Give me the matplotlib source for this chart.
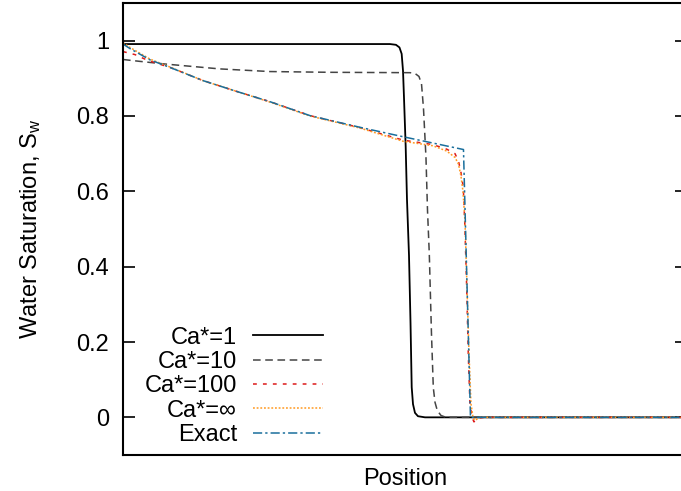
import matplotlib
matplotlib.use('Agg')
import matplotlib.pyplot as plt

plt.rcParams['font.family'] = ['Liberation Sans', 'DejaVu Sans']
plt.rcParams['mathtext.default'] = 'regular'

# position is the fraction of the domain length (0..1)
x_ca1 = [0.0, 0.4734, 0.4840, 0.4902, 0.4941, 0.4965, 0.4982, 0.5012, 0.5035,
         0.5071, 0.5098, 0.5119, 0.5142, 0.5177, 0.5230, 0.5355, 1.0]
s_ca1 = [0.991, 0.991, 0.989, 0.982, 0.965, 0.92, 0.85, 0.72, 0.58,
         0.43, 0.25, 0.08, 0.035, 0.012, 0.003, 0.0, 0.0]

x_ca10 = [0.0, 0.0301, 0.0745, 0.1720, 0.2606, 0.3670, 0.5089, 0.5177, 0.5248,
          0.5293, 0.5328, 0.5372, 0.5399, 0.5431, 0.5470, 0.5502, 0.5532,
          0.5573, 0.5638, 0.5727, 1.0]
s_ca10 = [0.950, 0.945, 0.938, 0.925, 0.918, 0.916, 0.915, 0.913, 0.905,
          0.885, 0.82, 0.69, 0.55, 0.434, 0.22, 0.079, 0.04,
          0.018, 0.005, 0.0, 0.0]

x_ca100 = [0.0, 0.0213, 0.0390, 0.0514, 0.0833, 0.1418, 0.2021, 0.2606, 0.3316,
           0.4202, 0.4965, 0.5496, 0.5739, 0.5887, 0.5949, 0.5993, 0.6034,
           0.6059, 0.6094, 0.6122, 0.6152, 0.6188, 0.6223, 0.6294, 0.6418, 1.0]
s_ca100 = [0.971, 0.963, 0.951, 0.944, 0.929, 0.894, 0.865, 0.838, 0.801,
           0.769, 0.736, 0.724, 0.712, 0.700, 0.680, 0.650, 0.610,
           0.520, 0.345, 0.169, 0.036, 0.0, -0.012, -0.002, 0.0, 0.0]

x_inf = [0.0, 0.0124, 0.0479, 0.0833, 0.1418, 0.2021, 0.2606, 0.3316, 0.4202,
         0.4965, 0.5496, 0.5739, 0.5887, 0.5949, 0.5993, 0.6028, 0.6064,
         0.6099, 0.6135, 0.6170, 0.6206, 0.6241, 0.6330, 1.0]
s_inf = [0.995, 0.982, 0.951, 0.930, 0.894, 0.865, 0.837, 0.800, 0.768,
         0.733, 0.721, 0.707, 0.690, 0.672, 0.640, 0.600, 0.520,
         0.345, 0.169, 0.036, 0.0, -0.008, 0.0, 0.0]

x_exact = [0.0, 0.0124, 0.0479, 0.0833, 0.1418, 0.2021, 0.2606, 0.3316, 0.4202,
           0.4965, 0.6037, 0.6161, 1.0]
s_exact = [0.991, 0.979, 0.949, 0.929, 0.894, 0.865, 0.838, 0.801, 0.770,
           0.745, 0.711, 0.0, 0.0]

fig = plt.figure(figsize=(6.81, 4.91), dpi=100)
ax = fig.add_axes([0.1806, 0.0733, 0.8282, 0.9206])

lw = 1.1
ax.plot(x_ca1, s_ca1, color='black', lw=1.3, label='Ca*=1')
ax.plot(x_ca10, s_ca10, color='#444444', lw=lw, dashes=[5, 3], label='Ca*=10')
ax.plot(x_ca100, s_ca100, color='#dd1a1a', lw=lw, dashes=[2.5, 4], label='Ca*=100')
ax.plot(x_inf, s_inf, color='#ff9a22', lw=lw, dashes=[1.2, 1.2], label='Ca*=∞')
ax.plot(x_exact, s_exact, color='#1a6f9c', lw=lw, dashes=[6, 2, 1.5, 2], label='Exact')

ax.set_xlim(0, 1)
ax.set_ylim(-0.1, 1.1)
ax.set_xticks([])
ax.set_yticks([0, 0.2, 0.4, 0.6, 0.8, 1])
ax.set_yticklabels(['0', '0.2', '0.4', '0.6', '0.8', '1'])
ax.tick_params(axis='y', direction='in', length=8.5, width=1.2, pad=10,
               labelsize=17, right=True)
for sp in ax.spines.values():
    sp.set_linewidth(1.5)

ax.set_xlabel('Position', fontsize=17, labelpad=9)
ax.set_ylabel('Water Saturation, S$_w$', fontsize=17)
ax.yaxis.set_label_coords(-0.142, 0.5)

ax.legend(loc='lower right', bbox_to_anchor=(0.355, 0.02), frameon=False,
          markerfirst=False, fontsize=17, handlelength=2.97, handletextpad=0.68,
          labelspacing=0.1, borderpad=0, borderaxespad=0)

fig.savefig('out.png', dpi=100)
